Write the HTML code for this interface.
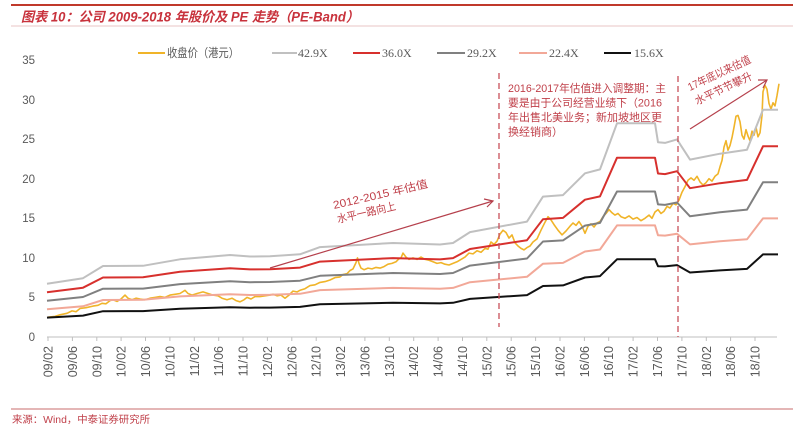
<!DOCTYPE html>
<html><head><meta charset="utf-8"><style>
html,body{margin:0;padding:0;background:#fff;}
svg{display:block;}
.ax{font-family:"Liberation Sans",Arial,sans-serif;font-size:12.5px;fill:#595959;}
.yl{font-family:"Liberation Sans",Arial,sans-serif;font-size:11.5px;fill:#595959;}
.lg{font-family:"Liberation Serif","Noto Serif CJK SC",serif;font-size:12px;fill:#595959;}
.cj{font-family:"Liberation Sans","Noto Sans CJK SC",sans-serif;}
.an{font-family:"Liberation Sans","Noto Sans CJK SC",sans-serif;font-size:11px;fill:#c0404a;}
</style></head><body>
<svg width="800" height="428" viewBox="0 0 800 428" xmlns="http://www.w3.org/2000/svg">
<rect width="800" height="428" fill="#fff"/>
<!-- header -->
<line x1="11" y1="5" x2="793" y2="5" stroke="#c0392b" stroke-width="2"/>
<text x="21" y="21.5" font-family="Liberation Sans,'Noto Sans CJK SC',sans-serif" font-size="13.5" font-weight="bold" font-style="italic" fill="#c8323c" textLength="338" lengthAdjust="spacingAndGlyphs">图表 10：公司 2009-2018 年股价及 PE 走势（PE-Band）</text>
<line x1="11" y1="26" x2="793" y2="26" stroke="#e8c6c6" stroke-width="1"/>

<!-- legend -->
<g stroke-width="2">
<line x1="138" y1="53" x2="165" y2="53" stroke="#f0b429"/>
<line x1="272" y1="53" x2="297" y2="53" stroke="#c0c0c0"/>
<line x1="353" y1="53" x2="380" y2="53" stroke="#d7302d"/>
<line x1="437" y1="53" x2="465" y2="53" stroke="#808080"/>
<line x1="519" y1="53" x2="547" y2="53" stroke="#f2a898"/>
<line x1="604" y1="53" x2="631" y2="53" stroke="#111"/>
</g>
<text class="lg cj" x="167" y="57" font-size="10.5" textLength="72" lengthAdjust="spacingAndGlyphs">收盘价（港元）</text>
<text class="lg" x="298" y="57">42.9X</text>
<text class="lg" x="382" y="57">36.0X</text>
<text class="lg" x="467" y="57">29.2X</text>
<text class="lg" x="549" y="57">22.4X</text>
<text class="lg" x="634" y="57">15.6X</text>

<!-- y axis labels -->
<g class="yl" text-anchor="end">
<text x="35" y="64">35</text>
<text x="35" y="104">30</text>
<text x="35" y="143">25</text>
<text x="35" y="183">20</text>
<text x="35" y="222">15</text>
<text x="35" y="262">10</text>
<text x="35" y="301">5</text>
<text x="35" y="341">0</text>
</g>

<!-- x axis -->
<line x1="47" y1="337" x2="777" y2="337" stroke="#bfbfbf" stroke-width="1"/>
<g stroke="#bfbfbf" stroke-width="1">
<line x1="48" y1="337" x2="48" y2="341"/><line x1="72.4" y1="337" x2="72.4" y2="341"/><line x1="96.8" y1="337" x2="96.8" y2="341"/><line x1="121.1" y1="337" x2="121.1" y2="341"/><line x1="145.5" y1="337" x2="145.5" y2="341"/><line x1="169.9" y1="337" x2="169.9" y2="341"/><line x1="194.3" y1="337" x2="194.3" y2="341"/><line x1="218.7" y1="337" x2="218.7" y2="341"/><line x1="243" y1="337" x2="243" y2="341"/><line x1="267.4" y1="337" x2="267.4" y2="341"/><line x1="291.8" y1="337" x2="291.8" y2="341"/><line x1="316.2" y1="337" x2="316.2" y2="341"/><line x1="340.6" y1="337" x2="340.6" y2="341"/><line x1="364.9" y1="337" x2="364.9" y2="341"/><line x1="389.3" y1="337" x2="389.3" y2="341"/><line x1="413.7" y1="337" x2="413.7" y2="341"/><line x1="438.1" y1="337" x2="438.1" y2="341"/><line x1="462.5" y1="337" x2="462.5" y2="341"/><line x1="486.8" y1="337" x2="486.8" y2="341"/><line x1="511.2" y1="337" x2="511.2" y2="341"/><line x1="535.6" y1="337" x2="535.6" y2="341"/><line x1="560" y1="337" x2="560" y2="341"/><line x1="584.4" y1="337" x2="584.4" y2="341"/><line x1="608.7" y1="337" x2="608.7" y2="341"/><line x1="633.1" y1="337" x2="633.1" y2="341"/><line x1="657.5" y1="337" x2="657.5" y2="341"/><line x1="681.9" y1="337" x2="681.9" y2="341"/><line x1="706.3" y1="337" x2="706.3" y2="341"/><line x1="730.6" y1="337" x2="730.6" y2="341"/><line x1="755" y1="337" x2="755" y2="341"/>
</g>
<g class="ax" text-anchor="end">
<text transform="translate(52.5,346) rotate(-90)">09/02</text>
<text transform="translate(76.9,346) rotate(-90)">09/06</text>
<text transform="translate(101.3,346) rotate(-90)">09/10</text>
<text transform="translate(125.6,346) rotate(-90)">10/02</text>
<text transform="translate(150,346) rotate(-90)">10/06</text>
<text transform="translate(174.4,346) rotate(-90)">10/10</text>
<text transform="translate(198.8,346) rotate(-90)">11/02</text>
<text transform="translate(223.2,346) rotate(-90)">11/06</text>
<text transform="translate(247.5,346) rotate(-90)">11/10</text>
<text transform="translate(271.9,346) rotate(-90)">12/02</text>
<text transform="translate(296.3,346) rotate(-90)">12/06</text>
<text transform="translate(320.7,346) rotate(-90)">12/10</text>
<text transform="translate(345.1,346) rotate(-90)">13/02</text>
<text transform="translate(369.4,346) rotate(-90)">13/06</text>
<text transform="translate(393.8,346) rotate(-90)">13/10</text>
<text transform="translate(418.2,346) rotate(-90)">14/02</text>
<text transform="translate(442.6,346) rotate(-90)">14/06</text>
<text transform="translate(467,346) rotate(-90)">14/10</text>
<text transform="translate(491.3,346) rotate(-90)">15/02</text>
<text transform="translate(515.7,346) rotate(-90)">15/06</text>
<text transform="translate(540.1,346) rotate(-90)">15/10</text>
<text transform="translate(564.5,346) rotate(-90)">16/02</text>
<text transform="translate(588.9,346) rotate(-90)">16/06</text>
<text transform="translate(613.2,346) rotate(-90)">16/10</text>
<text transform="translate(637.6,346) rotate(-90)">17/02</text>
<text transform="translate(662,346) rotate(-90)">17/06</text>
<text transform="translate(686.4,346) rotate(-90)">17/10</text>
<text transform="translate(710.8,346) rotate(-90)">18/02</text>
<text transform="translate(735.1,346) rotate(-90)">18/06</text>
<text transform="translate(759.5,346) rotate(-90)">18/10</text>
</g>

<!-- close price -->
<polyline fill="none" stroke="#f0b429" stroke-width="1.6" stroke-linejoin="round" points="48,317.2 55,316.4 60,314.8 67,313.3 72,310.9 76,311.7 80,308.5 86,307.7 93,306.1 98,305.3 102,303.3 106,303.8 110,300.6 113,299.8 117,301.4 121,299 125,295.1 128,298.2 132,299.8 136,298.2 140,299 145,299.8 150,298.2 155,297.4 160,296.6 165,297.4 170,295.1 175,294.3 180,293.5 185,290.3 188,293.5 192,295.1 197,293.5 203,291.9 208,293.5 213,295.1 218,295.8 222,298.2 227,299.8 232,298.2 236,300.6 240,301.8 244,299.8 247,297.4 251,299 255,296.6 260,296.6 265,295.8 270,295.1 273,294.3 277,295.8 281,295.1 285,298.2 289,295.1 293,291.1 297,291.9 300,290.3 305,288.7 310,285.6 315,284.8 320,282.4 325,281.6 330,280 335,277.6 340,276.9 343,274.5 347,273.7 350,270.5 353,268.9 356,262.6 357.5,257.9 359,263.4 361,268.1 364,269.7 368,268.1 372,268.9 376,267.4 380,268.1 384,266.6 388,264.2 392,263.4 396,261.8 399,258.7 401,257.9 403,253.1 406,257.1 409,259.4 413,257.9 417,259.4 421,257.1 425,259.4 429,260.2 433,261.8 437,263.4 441,262.6 445,264.2 449,265 453,263.4 457,261.8 461,259.4 465,257.1 469,253.1 473,253.9 477,250.7 481,252.3 485,248.4 488,249.2 491,242 494,244.4 497,241.2 500,234.1 503,230.2 506,232.5 509,238.1 512,234.9 515,242.8 518,246 521,248.4 524,249.9 527,247.6 530,246 533,242 537,238.9 541,230.2 545,222.2 548,216.7 551,219.9 554,224.6 558,230.2 562,234.9 566,231 570,226.2 573,223 576,225.4 579,221.5 582,226.2 585,233.3 588,226.2 591,223.8 594,227 597,223 600,221.5 603,216.7 606,213.5 609,209.6 612,212.8 615,215.1 618,213.5 621,216.7 625,218.3 629,215.9 633,219.1 637,217.5 641,220.7 645,218.3 649,215.1 652,218.3 655,212 658,209.6 661,213.5 664,211.2 667,206.4 670,208 673,203.3 676,204.8 679,200.1 682,192.2 685,186.6 688,180.3 691,177.9 694,180.3 697,176.3 700,181.9 703,185 706,182.7 709,178.7 712,181.1 715,176.3 718,173.9 720,166.8 722,160.5 724,147.1 726,140.7 728,150.2 730,145.5 732,137.6 734,127.3 736,116.2 738,115.4 740,121.7 742,135.2 744,139.1 746,129.7 748,136 750,140.7 752,131.2 754,135.2 756,127.3 758,136.8 760,132.8 762,115.4 763,91.7 765,85.3 767,89.3 769,103.5 771,109.1 773,102.8 775,105.9 777,95.6 779,83.8"/>

<!-- bands -->
<g fill="none" stroke-width="2" stroke-linejoin="round">
<polyline stroke="#c0c0c0" points="47,283.7 83,278.2 103,266 143,265.8 180,259.3 230,255 250,256.5 270,256.3 300,254.3 320,247.1 393,243 440,244.5 453,243 470,232.1 527,221.6 543,196.6 563,195.1 585,173.3 600,169.4 617,123.3 655,123.3 658,142.2 665,142.9 677,139.4 690,159.6 720,153.7 747,149.8 763,109.8 778,109.8"/>
<polyline stroke="#d7302d" points="47,292.3 83,287.7 103,277.5 143,277.3 180,271.8 230,268.2 250,269.4 270,269.2 300,267.6 320,261.6 393,258.1 440,259.4 453,258.1 470,249 527,240.2 543,219.2 563,217.9 585,199.7 600,196.4 617,157.7 655,157.7 658,173.5 665,174.1 677,171.2 690,188.2 720,183.2 747,179.9 763,146.3 778,146.3"/>
<polyline stroke="#808080" points="47,300.7 83,297 103,288.7 143,288.6 180,284.1 230,281.2 250,282.2 270,282 300,280.7 320,275.8 393,273 440,274 453,273 470,265.6 527,258.5 543,241.5 563,240.4 585,225.6 600,222.9 617,191.5 655,191.5 658,204.4 665,204.9 677,202.5 690,216.3 720,212.3 747,209.6 763,182.3 778,182.3"/>
<polyline stroke="#f2a898" points="47,309.2 83,306.3 103,300 143,299.8 180,296.4 230,294.2 250,295 270,294.8 300,293.8 320,290.1 393,287.9 440,288.7 453,287.9 470,282.2 527,276.8 543,263.7 563,262.9 585,251.5 600,249.5 617,225.4 655,225.4 658,235.3 665,235.6 677,233.8 690,244.4 720,241.3 747,239.3 763,218.4 778,218.4"/>
<polyline stroke="#111" points="47,317.6 83,315.6 103,311.2 143,311.1 180,308.7 230,307.2 250,307.7 270,307.6 300,306.9 320,304.3 393,302.8 440,303.4 453,302.8 470,298.9 527,295.1 543,286 563,285.4 585,277.5 600,276.1 617,259.3 655,259.3 658,266.2 665,266.4 677,265.1 690,272.5 720,270.4 747,268.9 763,254.4 778,254.4"/>
</g>

<!-- dashed separators -->
<line x1="499" y1="73" x2="499" y2="327" stroke="#c8505a" stroke-width="1.3" stroke-dasharray="6,4"/>
<line x1="678" y1="76" x2="678" y2="337" stroke="#c8505a" stroke-width="1.3" stroke-dasharray="6,4"/>

<!-- arrows -->
<g stroke="#b5404c" stroke-width="1.2" fill="none">
<line x1="270" y1="268" x2="493" y2="201"/>
<polyline points="484,199 493,201 487,207"/>
<line x1="690" y1="129" x2="767" y2="80"/>
<polyline points="758,80 767,80 763,88"/>
</g>

<!-- annotations -->
<text class="an" transform="translate(334,209) rotate(-13)" textLength="97" lengthAdjust="spacingAndGlyphs">2012-2015 年估值</text>
<text class="an" transform="translate(338,223) rotate(-13)" textLength="60" lengthAdjust="spacingAndGlyphs">水平一路向上</text>

<text class="an" x="508" y="92" textLength="158" lengthAdjust="spacingAndGlyphs">2016-2017年估值进入调整期：主</text>
<text class="an" x="508" y="106.5" textLength="154" lengthAdjust="spacingAndGlyphs">要是由于公司经营业绩下（2016</text>
<text class="an" x="508" y="121" textLength="154" lengthAdjust="spacingAndGlyphs">年出售北美业务；新加坡地区更</text>
<text class="an" x="508" y="135.5">换经销商）</text>

<text class="an" font-size="10" transform="translate(690,91) rotate(-25)" textLength="68" lengthAdjust="spacingAndGlyphs">17年底以来估值</text>
<text class="an" font-size="10" transform="translate(697,105) rotate(-25)" textLength="62" lengthAdjust="spacingAndGlyphs">水平节节攀升</text>

<!-- footer -->
<line x1="11" y1="409" x2="793" y2="409" stroke="#d48a8a" stroke-width="1.2"/>
<text x="12" y="423" font-family="Liberation Sans,'Noto Sans CJK SC',sans-serif" font-size="10" fill="#c0404a" textLength="138" lengthAdjust="spacingAndGlyphs">来源：Wind，中泰证券研究所</text>
</svg>
</body></html>
